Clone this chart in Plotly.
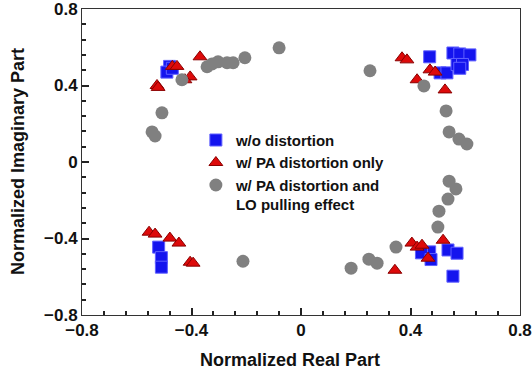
import plotly.graph_objects as go

# w/o distortion (blue squares)
sq_x = [-0.48, -0.49, -0.47,
        0.47, 0.555, 0.58, 0.617, 0.508, 0.533, 0.57, 0.59, 0.58,
        -0.52, -0.51, -0.51,
        0.47, 0.44, 0.475, 0.537, 0.57, 0.555]
sq_y = [0.50, 0.47, 0.49,
        0.55, 0.57, 0.565, 0.56, 0.466, 0.466, 0.51, 0.51, 0.49,
        -0.445, -0.50, -0.55,
        -0.47, -0.475, -0.51, -0.46, -0.477, -0.597]

# w/ PA distortion only (red triangles)
tr_x = [-0.369, -0.47, -0.453, -0.405, -0.424, -0.526, -0.522,
        0.369, 0.387, 0.471, 0.424, 0.526, 0.49,
        -0.555, -0.533, -0.479, -0.446, -0.405, -0.394,
        0.405, 0.424, 0.442, 0.464, 0.519, 0.343]
tr_y = [0.55, 0.50, 0.50, 0.445, 0.43, 0.40, 0.39,
        0.545, 0.534, 0.482, 0.43, 0.377, 0.47,
        -0.367, -0.377, -0.398, -0.424, -0.524, -0.529,
        -0.424, -0.445, -0.435, -0.503, -0.409, -0.566]

# w/ PA distortion and LO pulling effect (gray circles)
ci_x = [-0.08, -0.205, -0.248, -0.27, -0.303, -0.325, -0.343, -0.435, -0.508, -0.544, -0.533,
        0.252, 0.449, 0.53, 0.541, 0.577, 0.606, 0.541, 0.566, 0.537, 0.504, 0.50,
        0.347, 0.248, 0.278, 0.183, -0.212]
ci_y = [0.597, 0.545, 0.519, 0.519, 0.524, 0.513, 0.498, 0.43, 0.257, 0.157, 0.136,
        0.477, 0.398, 0.267, 0.157, 0.12, 0.094, -0.10, -0.141, -0.194, -0.257, -0.34,
        -0.445, -0.508, -0.529, -0.555, -0.519]

tick_vals = [-0.8, -0.4, 0, 0.4, 0.8]
tick_text = ["-0.8", "-0.4", "0", "0.4", "0.8"]

FONT = "Arial, Liberation Sans, sans-serif"

fig = go.Figure()
fig.add_trace(go.Scatter(x=sq_x, y=sq_y, mode="markers", name="w/o distortion",
                         marker=dict(symbol="square", size=12, color="#1414ee",
                                     line=dict(color="#6060ff", width=1))))
fig.add_trace(go.Scatter(x=tr_x, y=tr_y, mode="markers", name="w/ PA distortion only",
                         marker=dict(symbol="triangle-up", size=12, color="#dd0a0a",
                                     line=dict(color="#8a0000", width=1))))
fig.add_trace(go.Scatter(x=ci_x, y=ci_y, mode="markers",
                         name="w/ PA distortion and<br>LO pulling effect",
                         marker=dict(symbol="circle", size=13, color="#808080",
                                     line=dict(width=0))))

axis_common = dict(range=[-0.8, 0.8], tickmode="linear", tick0=-0.8, dtick=0.4,
                   ticks="inside", ticklen=7, tickwidth=2, tickcolor="#222",
                   showline=True, linecolor="#333", linewidth=1, mirror=True,
                   showgrid=False, zeroline=False, automargin=False,
                   ticklabeloverflow="allow",
                   minor=dict(dtick=0.08, tick0=-0.8, ticks="inside", ticklen=4,
                              tickwidth=2, tickcolor="#222", showgrid=False),
                   tickfont=dict(family=FONT, size=17, color="#111", weight="bold"))

fig.update_xaxes(**axis_common)
fig.update_yaxes(**axis_common)

fig.update_layout(
    width=532, height=374,
    margin=dict(l=82, r=12, t=9, b=59, autoexpand=False),
    paper_bgcolor="white", plot_bgcolor="white",
    font=dict(family=FONT, color="#111"),
    legend=dict(x=0.26, y=0.625, xanchor="left", yanchor="top",
                bgcolor="rgba(0,0,0,0)", valign="top", tracegroupgap=0,
                font=dict(family=FONT, size=15, color="#111", weight="bold")),
    annotations=[
        dict(text="<b>Normalized Real Part</b>", x=0.475, y=-0.147, xref="paper", yref="paper",
             xanchor="center", yanchor="middle", showarrow=False,
             font=dict(family=FONT, size=18, color="#111")),
        dict(text="<b>Normalized Imaginary Part</b>", x=-0.146, y=0.5, xref="paper", yref="paper",
             xanchor="center", yanchor="middle", showarrow=False, textangle=-90,
             font=dict(family=FONT, size=18, color="#111")),
    ],
)

fig.write_html("out.html")
